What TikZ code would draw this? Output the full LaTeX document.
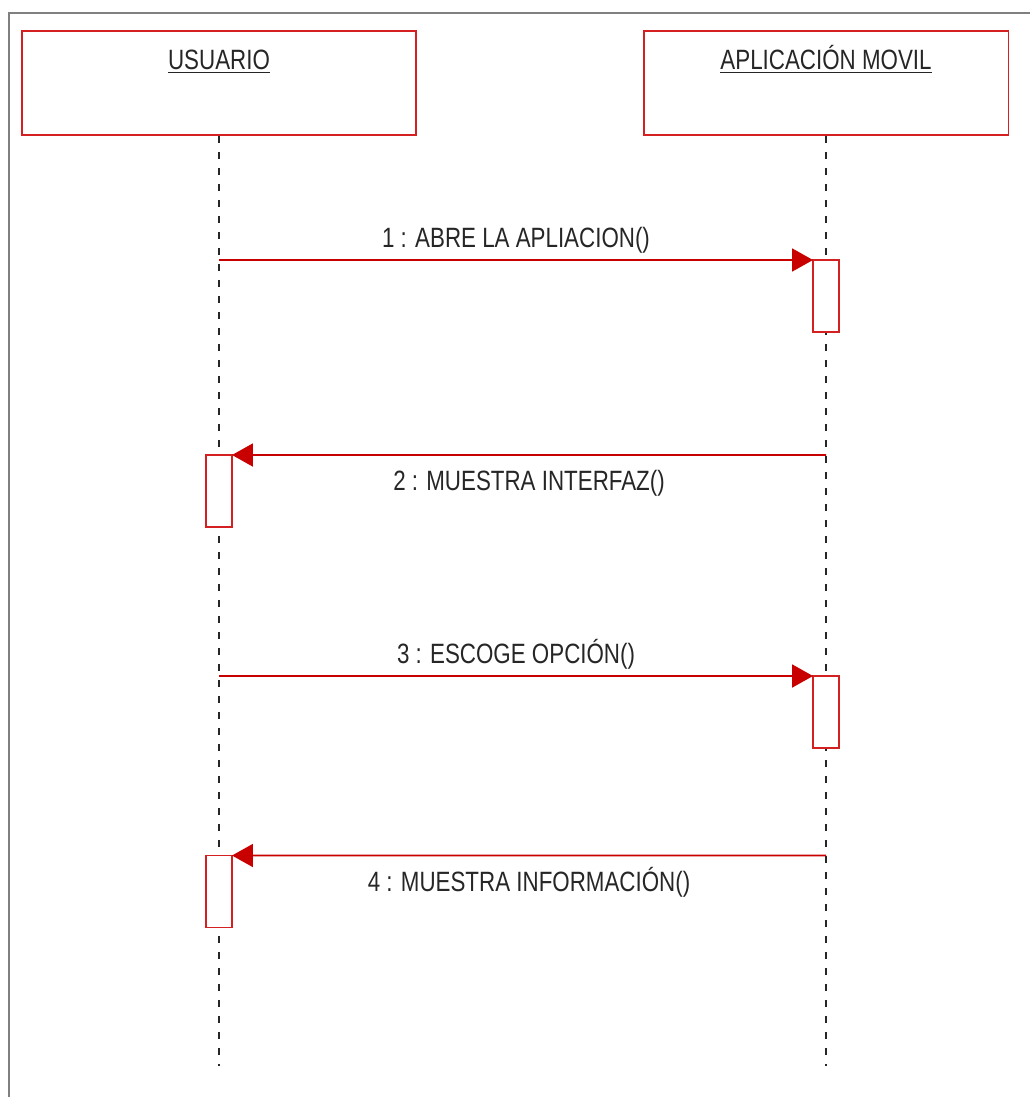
\documentclass[tikz,border=0pt]{standalone}
\usepackage{fontspec}
\setmainfont[FakeStretch=0.8]{Liberation Sans}
\usetikzlibrary{arrows.meta,positioning}
\definecolor{umlred}{HTML}{C80000}
\definecolor{boxred}{HTML}{D42020}
\definecolor{framegray}{HTML}{808080}

\begin{document}
\begin{tikzpicture}[
  x=0.02cm, y=-0.02cm,
  head/.style={draw=boxred, line width=1.1pt, minimum height=2.08cm, inner sep=0pt},
  headtxt/.style={anchor=base, font=\fontsize{15.9}{18}\selectfont, text=black!85},
  act/.style={draw=boxred, fill=white, line width=1.1pt, minimum width=0.52cm, minimum height=1.44cm, inner sep=0pt, outer sep=0pt},
  life/.style={dash pattern=on 0.14cm off 0.18cm, line width=0.8pt, black!85},
  msg/.style={-{Triangle[length=0.42cm, width=0.46cm]}, umlred, line width=1.1pt},
  lbl/.style={anchor=base, font=\fontsize{15.9}{18}\selectfont, text=black!85},
]
\useasboundingbox (0,0) rectangle (1029,1097);
% Frame
\draw[framegray, line width=1.2pt] (9,1100) -- (9,13) -- (1032,13);

% Objects
\node[head, minimum width=7.88cm] (user) at (219,83) {};
\node[headtxt] (usertxt) at (219,70) {\underline{USUARIO}};
\node[head, minimum width=7.3cm] (app) at (826,83) {};
\node[headtxt] (apptxt) at (826,70) {\underline{APLICACIÓN MOVIL}};

% Lifelines
\coordinate (uend) at (219,1066);
\coordinate (aend) at (826,1066);
\draw[life] (user.south) -- (uend);
\draw[life] (app.south) -- (aend);

% Activations
\node[act] (a1) at (826,296) {};
\node[act] (a2) at (219,491) {};
\node[act] (a3) at (826,712) {};
\node[act] (a4) at (219,891.5) {};

% Messages
\coordinate (m1) at (219,260);
\coordinate (m2) at (826,455);
\coordinate (m3) at (219,676);
\coordinate (m4) at (826,855.5);
\draw[msg] (m1) -- node[lbl, yshift=0.26cm] {1 : ABRE LA APLIACION()} (a1.north west);
\draw[msg] (m2) -- node[lbl, yshift=-0.72cm] {2 : MUESTRA INTERFAZ()} (a2.north east);
\draw[msg] (m3) -- node[lbl, yshift=0.26cm] {3 : ESCOGE OPCIÓN()} (a3.north west);
\draw[msg] (m4) -- node[lbl, yshift=-0.72cm] {4 : MUESTRA INFORMACIÓN()} (a4.north east);
\end{tikzpicture}
\end{document}
